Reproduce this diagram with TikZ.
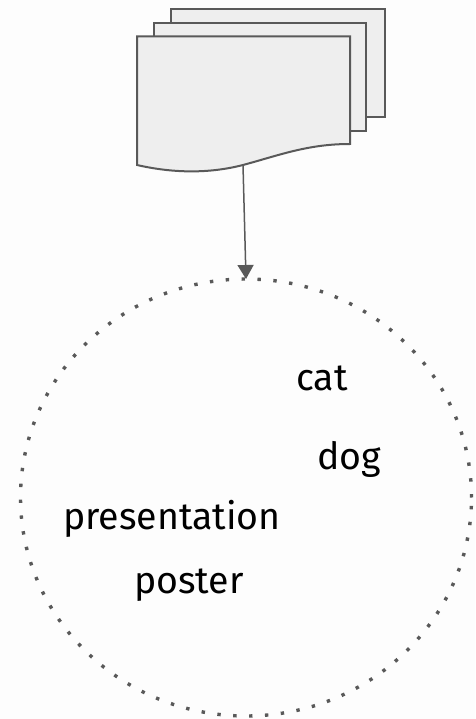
\documentclass[tikz,border=0pt]{standalone}
\usepackage{fontspec}
\setmainfont{Fira Sans}
\usetikzlibrary{shapes.geometric,arrows.meta}
\definecolor{strokegray}{HTML}{595959}
\definecolor{sheetgray}{HTML}{EEEEEE}
\definecolor{paper}{HTML}{FDFDFD}
\tikzset{
  sheet/.style={rectangle, draw=strokegray, fill=sheetgray, line width=2pt},
  word/.style={anchor=base, inner sep=0pt, outer sep=0pt, font=\fontsize{37.5}{44}\selectfont},
  cloud/.style={ellipse, draw=strokegray, line width=3.4pt, dash pattern=on 3.4pt off 12.5pt,
    minimum width=451pt, minimum height=437pt, inner sep=0pt, outer sep=0pt}
}
\newcommand{\backsheet}[5]{
  \node[sheet, minimum width=#4pt, minimum height=#5pt] (#1) at (#2,#3) {};
}
\newcommand{\wordn}[4]{
  \node[word] (#1) at (#2,#3) {#4};
}
\begin{document}
\begin{tikzpicture}[x=1pt,y=-1pt]

  \fill[paper] (0,0) rectangle (475,719);
  \useasboundingbox (0,0) rectangle (475,719);

  % Sheets
  % ------

  \backsheet{sheetc}{277.5}{63}{214}{108};
  \backsheet{sheetb}{260}{77}{212}{108};

  \draw[sheet] (137,36.5) -- (350,36.5) -- (350,144)
  .. controls (308,144) and (280,155) .. (243,165)
  .. controls (208,174) and (172,173) .. (137,165) -- cycle;
  \coordinate (sheetend) at (243,165);

  % Circle
  % ------

  \node[cloud] (cloud) at (246,497.5) {};

  % Link
  % ----

  \draw[-{Triangle[width=16pt,length=14pt]}, strokegray, line width=1.5pt]
  (sheetend)--(cloud.north);

  % Words
  % -----

  \wordn{cat}{322}{390.5}{cat};
  \wordn{dog}{349}{469}{dog};
  \wordn{presentation}{172}{529}{presentation};
  \wordn{poster}{189}{593}{poster};

\end{tikzpicture}
\end{document}
